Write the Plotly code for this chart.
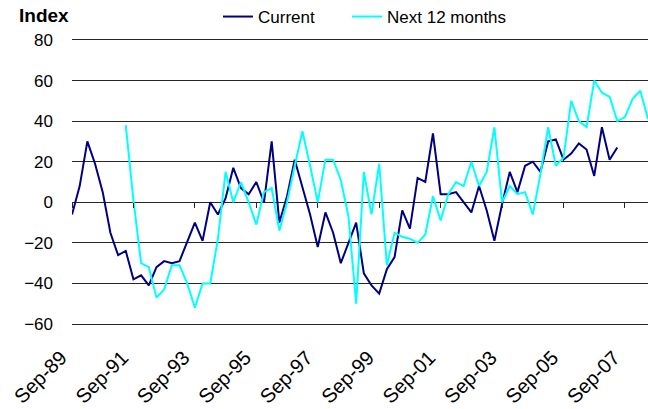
import pandas as pd
import plotly.graph_objects as go

# Quarterly periods, Sep-89 onwards
quarters = list(pd.date_range("1989-09-01", periods=76, freq="3MS").strftime("%b-%y"))
tick_labels = ["Sep-89", "Sep-91", "Sep-93", "Sep-95", "Sep-97",
               "Sep-99", "Sep-01", "Sep-03", "Sep-05", "Sep-07"]

current = [-6, 8, 30, 19, 5, -15, -26, -24, -38, -36, -41, -32, -29, -30, -29, -19,
           -10, -19, 0, -6, 2, 17, 7, 4, 10, 0, 30, -10, 3, 21, 7, -6, -22, -5, -15, -30,
           -20, -10, -35, -41, -45, -33, -27, -4, -13, 12, 10, 34, 4, 4, 5, 0, -5, 8,
           -4, -19, -1, 15, 5, 18, 20, 15, 30, 31, 21, 24, 29, 26, 13, 37, 21, 27]

next12 = [None] * 7 + [
    38, 1, -30, -32, -47, -43, -31, -31, -40, -52, -40, -40, -18, 15, 0, 10, 0,
    -11, 5, 7, -14, 0, 18, 35, 18, 0, 21, 21, 11, -7, -50, 15, -6, 19, -31, -15,
    -17, -18, -20, -16, 3, -9, 4, 10, 8, 20, 8, 15, 37, 0, 8, 4, 5, -6, 14, 37,
    18, 22, 50, 40, 37, 60, 54, 52, 40, 42, 51, 55, 41]

idx = list(range(len(quarters)))
tick_idx = [quarters.index(t) for t in tick_labels]

FONT = "Liberation Sans, Arial, sans-serif"
GRID = "#262626"
PL, PT, PW, PH = 72, 40, 576, 284

fig = go.Figure()
fig.add_trace(go.Scatter(x=idx[:len(current)], y=current, name="Current",
                         mode="lines", line=dict(color="#000080", width=2),
                         xaxis="x", yaxis="y", legend="legend"))
fig.add_trace(go.Scatter(x=idx[:len(next12)], y=next12, name="Next 12 months",
                         mode="lines", line=dict(color="#00FFFF", width=2),
                         xaxis="x2", yaxis="y", legend="legend2"))

leg_common = dict(orientation="h", xanchor="left", yanchor="middle",
                  y=1 + (PT - 17) / PH, font=dict(size=17),
                  bgcolor="rgba(0,0,0,0)")

fig.update_layout(
    width=648, height=409,
    margin=dict(l=PL, r=0, t=PT, b=409 - PT - PH, autoexpand=False),
    paper_bgcolor="white", plot_bgcolor="white",
    font=dict(family=FONT, size=17, color="black"),
    xaxis=dict(range=[0, 75], tickmode="array", tickvals=tick_idx, ticktext=tick_labels,
               tickangle=-45, showgrid=False, zeroline=False,
               showline=True, mirror=True, linecolor=GRID, linewidth=1,
               ticks="", tickfont=dict(size=20),
               ticklabelstandoff=13, ticklabelshift=-11),
    xaxis2=dict(range=[0, 75], overlaying="x", anchor="free", position=60 / 140,
                tickmode="array", tickvals=tick_idx, showticklabels=False,
                ticks="outside", ticklen=5, tickcolor=GRID, tickwidth=1,
                showgrid=False, zeroline=False, showline=False),
    yaxis=dict(range=[-60, 80], tickmode="linear", tick0=-60, dtick=20,
               showgrid=True, gridcolor=GRID, gridwidth=1,
               zeroline=True, zerolinecolor=GRID, zerolinewidth=1,
               showline=False, ticks="", ticklabelstandoff=18,
               tickfont=dict(size=17)),
    showlegend=True,
    legend=dict(x=(218 - PL) / PW, **leg_common),
    legend2=dict(x=(347 - PL) / PW, **leg_common),
    annotations=[dict(text="<b>Index</b>", xref="paper", yref="paper",
                      x=(17 - PL) / PW, y=1 + (PT - 15) / PH, xanchor="left",
                      yanchor="middle", showarrow=False,
                      font=dict(size=19, family=FONT))],
)

fig.write_html("out.html", config={"displayModeBar": False},
               post_script="document.body.style.margin='0px';")
